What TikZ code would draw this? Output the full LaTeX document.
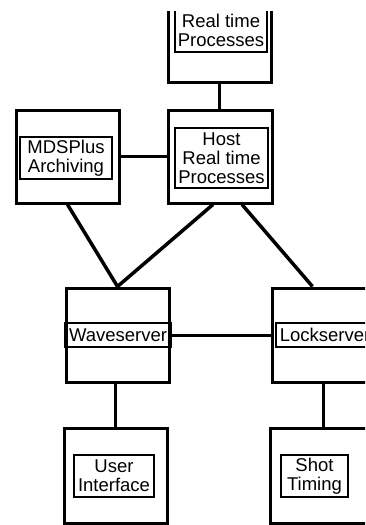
\documentclass[tikz,border=0pt]{standalone}
\usepackage{fontspec}
\setmainfont{Liberation Sans}
\begin{document}
\begin{tikzpicture}[x=1pt,y=-1pt,
  outerbox/.style={draw,line width=3pt,rectangle,inner sep=0pt,minimum width=#1},
  innerbox/.style={draw,line width=2.5pt,rectangle,inner sep=0pt,align=center,
    font=\fontsize{18.5}{19}\selectfont},
  conn/.style={line width=3pt}]
\useasboundingbox (0,0) rectangle (365,525);
\clip (0,11) rectangle (365,526);
% outer boxes
\node[outerbox=103pt,minimum height=112pt] (rt) at (219.5,26) {};
\node[outerbox=103pt,minimum height=93pt] (mds) at (67.5,156.5) {};
\node[outerbox=104pt,minimum height=93pt] (host) at (220,156.5) {};
\node[outerbox=103pt,minimum height=94pt] (wave) at (117.5,335) {};
\node[outerbox=103pt,minimum height=94pt] (lock) at (323.5,335) {};
\node[outerbox=103pt,minimum height=95pt] (ui) at (115.5,475.5) {};
\node[outerbox=103pt,minimum height=95pt] (shot) at (321.5,475.5) {};
% inner boxes
\node[innerbox,minimum width=92pt,minimum height=44pt] (rti) at (221,30) {Real time\\Processes};
\node[innerbox,minimum width=92pt,minimum height=42pt] (mdsi) at (66,158) {MDSPlus\\Archiving};
\node[innerbox,minimum width=93pt,minimum height=60pt] (hosti) at (221.5,158) {Host\\Real time\\Processes};
\node[innerbox,minimum width=106pt,minimum height=24pt] (wavei) at (118,335) {Waveserver};
\node[innerbox,minimum width=98pt,minimum height=24pt] (locki) at (325,335) {Lockserver};
\node[innerbox,minimum width=80pt,minimum height=42pt] (uii) at (114,476) {User\\Interface};
\node[innerbox,minimum width=67pt,minimum height=42pt] (shoti) at (314.5,476) {Shot\\Timing};
% connectors
\draw[conn] (rt.south) -- (rt.south |- host.north);
\draw[conn] (mds.east) -- (host.west);
\draw[conn,line width=3.5pt] (mds.south) -- (wave.north);
\draw[conn,line width=3.5pt] ([xshift=-7pt]host.south) -- (wave.north);
\draw[conn,line width=3.5pt] ([xshift=22pt]host.south) -- ([xshift=-11pt]lock.north);
\draw[conn] (wave.east) -- (lock.west);
\draw[conn] (ui.north) -- (ui.north |- wave.south);
\draw[conn] (lock.south) -- (lock.south |- shot.north);
\end{tikzpicture}
\end{document}
